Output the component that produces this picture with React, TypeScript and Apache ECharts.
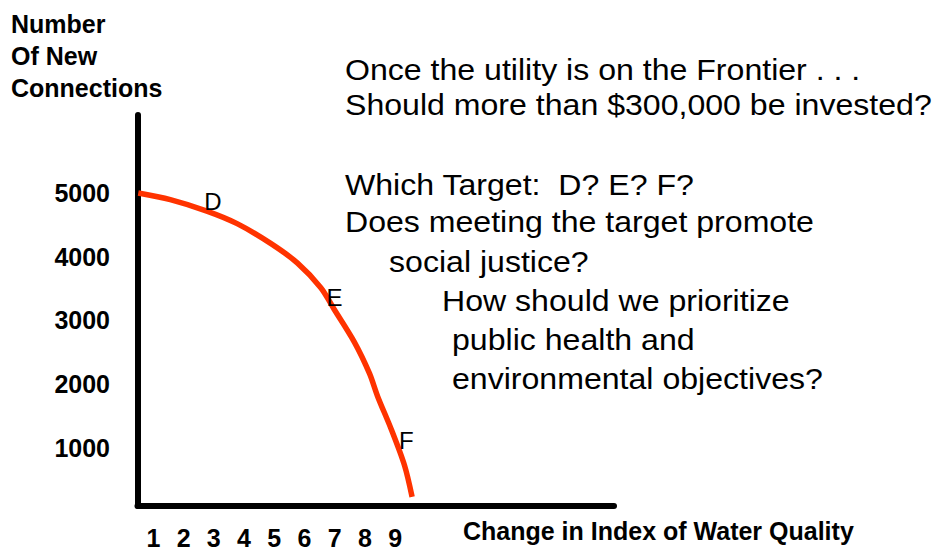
import React, { useEffect, useRef } from "react";
import * as echarts from "echarts";

// ---- data ----
const xTickLabels = [1, 2, 3, 4, 5, 6, 7, 8, 9];
const yTickLabels = [1000, 2000, 3000, 4000, 5000];

const frontierX = [0.5, 1.56, 2.77, 3.77, 4.88, 5.77, 6.54, 6.98, 7.65, 8.15, 8.42, 8.87, 9.31, 9.56];
const frontierY = [5000, 4896, 4716, 4519, 4209, 3899, 3512, 3175, 2659, 2167, 1806, 1290, 721, 229];

const targetNames = ["D", "E", "F"];
const targetX = [2.97, 6.99, 9.37];
const targetY = [4868, 3364, 1116];

const yAxisTitle = "Number\nOf New\nConnections";
const xAxisTitle = "Change in Index of Water Quality";

const questionLines = [
  "Once the utility is on the Frontier . . .",
  "Should more than $300,000 be invested?",
  "Which Target:  D? E? F?",
  "Does meeting the target promote",
  "social justice?",
  "How should we prioritize",
  "public health and",
  "environmental objectives?",
];

// ---- layout (not data) ----
const questionX = [345, 345, 345, 345, 389, 442, 452, 452];
const questionY = [70, 105, 185, 222, 262, 301, 340, 379];

const FONT = "Liberation Sans, Arial, Helvetica, sans-serif";

export default function App() {
  const ref = useRef<HTMLDivElement>(null);

  useEffect(() => {
    if (!ref.current) return;
    const chart = echarts.init(ref.current, null, { renderer: "svg" });

    const option: any = {
      animation: false,
      backgroundColor: "#ffffff",
      textStyle: { fontFamily: FONT },
      title: {
        text: yAxisTitle,
        left: 11,
        top: 8,
        padding: 0,
        textStyle: {
          fontFamily: FONT,
          fontSize: 25,
          fontWeight: "bold",
          lineHeight: 32,
          color: "#000",
        },
      },
      grid: { left: 137.5, right: 322, top: 115, bottom: 39, containLabel: false },
      xAxis: {
        type: "value",
        min: 0.475,
        max: 16.24,
        name: xAxisTitle,
        nameLocation: "end",
        nameGap: -151,
        nameTextStyle: {
          fontFamily: FONT,
          fontSize: 25,
          fontWeight: "bold",
          color: "#000",
          align: "left",
          verticalAlign: "top",
          lineHeight: 30,
          padding: [10, 0, 0, 0],
        },
        axisLine: { show: true, onZero: false, lineStyle: { color: "#000", width: 6 } },
        axisTick: { show: false },
        splitLine: { show: false },
        axisLabel: {
          customValues: xTickLabels,
          margin: 19,
          fontFamily: FONT,
          fontSize: 25,
          fontWeight: "bold",
          lineHeight: 25,
          color: "#000",
          formatter: (v: number) => String(v),
        },
      },
      yAxis: {
        type: "value",
        min: 85,
        max: 6225,
        axisLine: { show: true, onZero: false, lineStyle: { color: "#000", width: 6 } },
        axisTick: { show: false },
        splitLine: { show: false },
        axisLabel: {
          customValues: yTickLabels,
          margin: 27.5,
          fontFamily: FONT,
          fontSize: 25,
          fontWeight: "bold",
          color: "#000",
          formatter: (v: number) => String(v),
        },
      },
      series: [
        {
          type: "line",
          data: frontierX.map((x, i) => [x, frontierY[i]]),
          symbol: "none",
          smooth: 0.3,
          lineStyle: { color: "#ff3300", width: 5.5 },
          silent: true,
          z: 2,
        },
        {
          type: "scatter",
          data: targetNames.map((n, i) => ({ name: n, value: [targetX[i], targetY[i]] })),
          symbolSize: 2,
          itemStyle: { color: "rgba(0,0,0,0)" },
          label: {
            show: true,
            position: "inside",
            formatter: "{b}",
            fontFamily: FONT,
            fontSize: 24,
            color: "#000",
            textBorderWidth: 0,
            textBorderColor: "transparent",
            opacity: 1,
          },
          silent: true,
          z: 3,
        },
      ],
      graphic: questionLines.map((t, i) => ({
        type: "text",
        x: questionX[i],
        y: questionY[i],
        scaleX: 1.07,
        style: {
          text: t,
          fontFamily: FONT,
          fontSize: 30,
          fill: "#000",
          align: "left",
          verticalAlign: "middle",
        },
      })),
    };

    chart.setOption(option);
    return () => chart.dispose();
  }, []);

  return (
    <div
      ref={ref}
      style={{ position: "absolute", left: 0, top: 0, width: 936, height: 550 }}
    />
  );
}
